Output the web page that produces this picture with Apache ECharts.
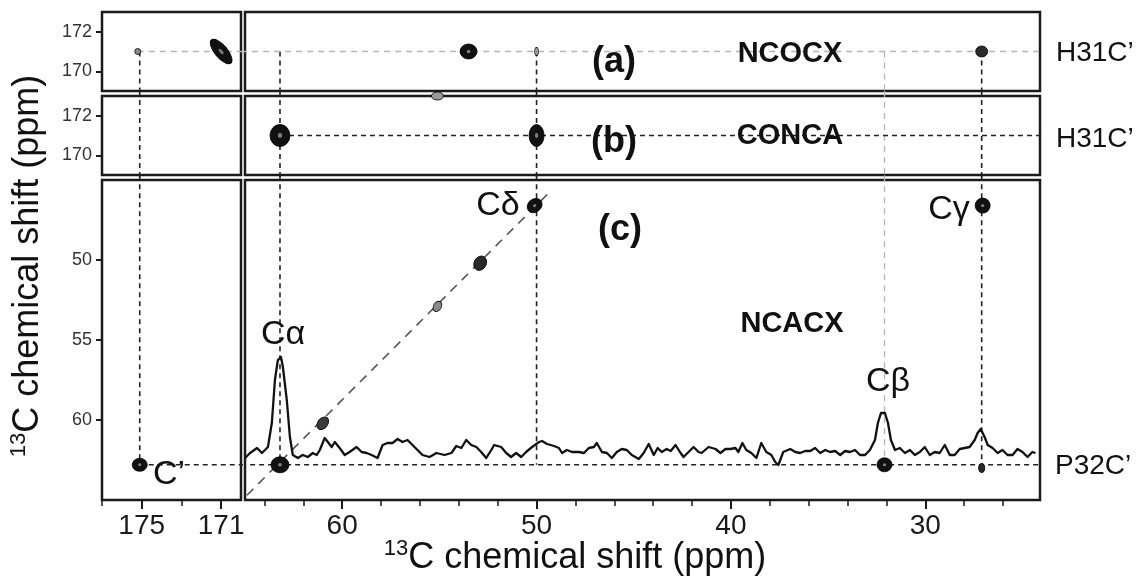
<!DOCTYPE html>
<html><head><meta charset="utf-8">
<script src="https://cdn.jsdelivr.net/npm/echarts@6/dist/echarts.min.js"></script>
<style>html,body{margin:0;padding:0;background:#fff}#c{width:1137px;height:577px}</style>
</head><body><div id="c"></div>
<script>
// ---------------- data ----------------
// x ticks
const xTicksLeftMajor = [175, 171];
const xTicksLeftMinor = [177, 173];
const xTicksRightMajor = [60, 50, 40, 30];
const xTicksRightMinor = [64, 62, 58, 56, 54, 52, 48, 46, 44, 42, 38, 36, 34, 32, 28, 26];
// y ticks
const yTicksTop = [170, 172];
const yTicksC = [50, 55, 60];

// assignments (ppm)
const H31_CO = 171.0;    // omega1 of panels (a) and (b)
const P32_CO = 175.1;
const P32_CA = 63.2;
const P32_CD = 50.0;
const P32_CB = 32.1;
const P32_CG = 27.1;
const P32_CA_W1 = 62.8;  // omega1 in panel (c)

// 2D peaks [omega2, omega1]
const peaksA_left  = [[171.0, 171.0], [175.2, 171.0]];
const peaksA_right = [[53.5, 171.0], [50.0, 171.0], [27.1, 171.0]];
const peaksB_right = [[63.2, 171.0], [50.0, 171.0], [55.1, 173.0]];
const peaksC_left  = [[175.1, 62.8]];
const peaksC_right = [[63.2, 62.8], [61.0, 60.2], [55.1, 52.9], [52.9, 50.2], [50.1, 46.6], [27.05, 46.6], [32.1, 62.8], [27.1, 63.0]];

// diagonal of panel (c)
const diagonal = [[64.9, 64.7], [49.2, 45.6]];

// 1D slice (shift ppm, intensity a.u.)
const traceShift = [65.00,64.74,64.38,64.13,63.97,63.82,63.62,63.46,63.31,63.15,63.05,62.85,62.69,62.54,62.28,62.03,61.77,61.51,61.31,61.15,60.90,60.74,60.54,60.38,60.13,59.87,59.62,59.26,59.00,58.74,58.49,58.18,57.92,57.67,57.41,57.15,56.90,56.64,56.28,55.87,55.51,55.15,54.74,54.38,54.13,53.87,53.62,53.36,53.10,52.85,52.59,52.33,52.18,51.82,51.56,51.31,51.05,50.79,50.54,50.23,49.87,49.72,49.46,49.10,48.85,48.69,48.44,48.18,47.82,47.56,47.31,47.05,46.90,46.64,46.38,46.13,45.87,45.62,45.36,45.10,44.74,44.49,44.23,43.97,43.77,43.56,43.31,43.10,42.85,42.59,42.44,42.18,41.92,41.67,41.51,41.15,40.79,40.54,40.28,40.03,39.77,39.62,39.41,39.21,38.95,38.69,38.44,38.18,37.92,37.72,37.56,37.31,36.95,36.69,36.44,36.18,35.92,35.67,35.41,35.15,34.90,34.64,34.38,34.13,33.87,33.62,33.36,33.10,32.85,32.59,32.44,32.28,32.08,31.92,31.77,31.56,31.31,31.05,30.79,30.54,30.28,30.03,29.77,29.51,29.26,29.00,28.74,28.49,28.23,27.97,27.72,27.46,27.31,27.15,26.95,26.79,26.54,26.28,26.03,25.77,25.51,25.26,25.00,24.74,24.49,24.33];
const traceIntensity = [-3,2,7,2,5,8,32,75,95,98,88,55,18,0,-3,0,-2,2,0,5,17,13,8,13,7,0,3,8,3,2,0,-3,10,12,12,16,13,15,8,0,-2,2,0,2,9,7,15,10,8,3,-3,5,10,8,2,-2,2,-2,3,8,13,14,11,9,7,2,5,3,3,2,7,8,12,3,2,-3,3,6,5,0,-4,2,11,0,7,3,6,4,10,2,-2,3,8,3,2,8,6,2,6,6,7,3,12,5,2,-3,12,3,0,-7,-10,3,6,3,2,4,4,7,2,5,3,4,0,4,3,5,0,0,5,15,32,42,42,32,15,5,7,2,5,0,3,8,0,3,2,10,0,0,6,7,8,15,22,26,18,10,7,2,5,0,0,6,3,-2,3,2];

// --------------- styles ---------------
const DARK = '#111111';
const FONT = '"Liberation Sans", Arial, sans-serif';
const shapeA_left  = [{s:[30,13], r:-50, c:DARK}, {s:[6,6], r:0, c:'#8a8a8a'}];
const shapeA_right = [{s:[17,15], r:0, c:DARK}, {s:[4,8], r:0, c:'#9a9a9a'}, {s:[12,11], r:0, c:'#2a2a2a'}];
const shapeB_right = [{s:[20,22], r:0, c:DARK}, {s:[15,22], r:0, c:DARK}, {s:[12,8], r:0, c:'#9a9a9a'}];
const shapeC_left  = [{s:[15,13], r:0, c:DARK}];
const shapeC_right = [{s:[18,16], r:0, c:DARK}, {s:[10,14], r:-40, c:'#3a3a3a'}, {s:[8,11], r:-30, c:'#8a8a8a'}, {s:[12,15], r:-30, c:'#2a2a2a'}, {s:[16,13], r:40, c:DARK}, {s:[15,15], r:0, c:DARK}, {s:[15,14], r:0, c:DARK}, {s:[6,9], r:0, c:'#2a2a2a'}];

const grids = [
  {left:102, top:12, width:139, height:79},
  {left:245, top:12, width:795, height:79},
  {left:102, top:96, width:139, height:79},
  {left:245, top:96, width:795, height:79},
  {left:102, top:180, width:139, height:320},
  {left:245, top:180, width:795, height:320}
].map(g => Object.assign({show:true, borderColor:'#1a1a1a', borderWidth:2.5, backgroundColor:'transparent'}, g));

function xAx(gi, min, max, opts) {
  return Object.assign({gridIndex:gi, type:'value', position:'bottom', min, max, inverse:true, splitLine:{show:false},
    axisLine:{show:false, onZero:false}, axisTick:{show:false}, axisLabel:{show:false}}, opts || {});
}
function yAx(gi, min, max, inverse, opts) {
  return Object.assign({gridIndex:gi, type:'value', position:'left', min, max, inverse, splitLine:{show:false},
    axisLine:{show:false, onZero:false}, axisTick:{show:false}, axisLabel:{show:false}}, opts || {});
}
const tickStyle = (vals, len, w) => ({show:true, customValues:vals, length:len, lineStyle:{color:'#1a1a1a', width:w}});
const xLbl = vals => ({show:true, customValues:vals, fontSize:28, color:'#1a1a1a', fontFamily:FONT, margin:12});
const yLbl = vals => ({show:true, customValues:vals, fontSize:18, color:'#333', fontFamily:FONT, margin:10});

const xAxes = [
  xAx(0, 170, 177), xAx(1, 24.1, 65), xAx(2, 170, 177), xAx(3, 24.1, 65),
  xAx(4, 170, 177, {axisTick:tickStyle(xTicksLeftMajor, 9, 2), axisLabel:xLbl(xTicksLeftMajor)}),
  xAx(4, 170, 177, {axisTick:tickStyle(xTicksLeftMinor, 6, 1.5)}),
  xAx(5, 24.1, 65, {axisTick:tickStyle(xTicksRightMajor, 9, 2), axisLabel:xLbl(xTicksRightMajor)}),
  xAx(5, 24.1, 65, {axisTick:tickStyle(xTicksRightMinor, 6, 1.5)})
];
const yAxes = [
  yAx(0, 169, 173, false, {axisTick:tickStyle(yTicksTop, 6, 2), axisLabel:yLbl(yTicksTop)}),
  yAx(1, 169, 173, false),
  yAx(2, 169, 173, false, {axisTick:tickStyle(yTicksTop, 6, 2), axisLabel:yLbl(yTicksTop)}),
  yAx(3, 169, 173, false),
  yAx(4, 45, 65, true, {axisTick:tickStyle(yTicksC, 6, 2), axisLabel:yLbl(yTicksC)}),
  yAx(5, 45, 65, true),
  yAx(5, -45, 275, false)
];

// grid -> [xAxisIndex, yAxisIndex]
const AX = [[0,0],[1,1],[2,2],[3,3],[4,4],[6,5]];
const series = [];
const DASH_DARK = {color:'#222', width:1.6, type:[5,4]};
const DASH_GRAY = {color:'#b5b5b5', width:1.3, type:[6,5]};
function guide(g, data, ls) {
  series.push({type:'line', xAxisIndex:AX[g][0], yAxisIndex:AX[g][1], data, symbol:'none', clip:false,
    silent:true, animation:false, z:2, lineStyle:ls});
}
// vertical guides through the three panels
function vGuide(gTop, gMid, gBot, x, ls) {
  guide(gTop, [[x, H31_CO], [x, 168.75]], ls);
  guide(gMid, [[x, 173.25], [x, 168.75]], ls);
  guide(gBot, [[x, 44.7], [x, P32_CA_W1]], ls);
}
vGuide(0, 2, 4, P32_CO, DASH_DARK);
vGuide(1, 3, 5, P32_CA, DASH_DARK);
vGuide(1, 3, 5, P32_CD, DASH_DARK);
vGuide(1, 3, 5, P32_CB, DASH_GRAY);
vGuide(1, 3, 5, P32_CG, DASH_DARK);
// horizontal guides
guide(0, [[175.2, H31_CO], [169.8, H31_CO]], DASH_GRAY);
guide(1, [[65.2, H31_CO], [23.4, H31_CO]], DASH_GRAY);
guide(3, [[P32_CA, H31_CO], [23.4, H31_CO]], DASH_DARK);
guide(4, [[P32_CO, P32_CA_W1], [169.8, P32_CA_W1]], DASH_DARK);
guide(5, [[65.2, P32_CA_W1], [23.4, P32_CA_W1]], DASH_DARK);
// diagonal
guide(5, diagonal, {color:'#555', width:1.6, type:[9,7]});

// 1D trace
series.push({type:'line', xAxisIndex:6, yAxisIndex:6, symbol:'none', silent:true, animation:false, z:4,
  data: traceShift.map((x, i) => [x, traceIntensity[i]]),
  lineStyle:{color:'#111', width:2.3, join:'round'}});

function peaks(g, pts, shapes) {
  series.push({type:'scatter', xAxisIndex:AX[g][0], yAxisIndex:AX[g][1], silent:true, animation:false, z:5,
    data: pts.map((p, i) => ({value:p, symbolSize:shapes[i].s, symbolRotate:shapes[i].r,
      itemStyle:{color:shapes[i].c, opacity:1, borderColor:'#000', borderWidth:0.8}}))});
  series.push({type:'scatter', xAxisIndex:AX[g][0], yAxisIndex:AX[g][1], silent:true, animation:false, z:6,
    data: pts.map((p, i) => ({value:p, symbolSize:shapes[i].s.map(v => Math.max(2, v*0.22)), symbolRotate:shapes[i].r,
      itemStyle:{color:'#8a8a8a', opacity: shapes[i].c === DARK ? 0.9 : 0}}))});
}
peaks(0, peaksA_left, shapeA_left);
peaks(1, peaksA_right, shapeA_right);
peaks(3, peaksB_right, shapeB_right);
peaks(4, peaksC_left, shapeC_left);
peaks(5, peaksC_right, shapeC_right);

function txt(text, x, y, size, weight, align) {
  return {type:'text', x, y, z:20, silent:true,
    style:{text, fontSize:size, fontWeight:weight || 'normal', fontFamily:FONT, fill:'#111', align:align || 'center', verticalAlign:'middle'}};
}
function richTitle() {
  return {
    text:'{sup|13}{m|C chemical shift (ppm)}',
    rich:{
      sup:{fontSize:22, fontFamily:FONT, fill:'#111', verticalAlign:'top', lineHeight:24},
      m:{fontSize:36, fontFamily:FONT, fill:'#111', lineHeight:40}
    },
    align:'center', verticalAlign:'middle'
  };
}

const graphic = [
  txt('(a)', 614, 62, 36, 'bold'),
  txt('NCOCX', 790, 54, 29, 'bold'),
  txt('(b)', 614, 142, 36, 'bold'),
  txt('CONCA', 790, 136, 29, 'bold'),
  txt('(c)', 620, 230, 36, 'bold'),
  txt('NCACX', 792, 324, 29, 'bold'),
  txt('C\u03b1', 283, 335, 34),
  txt('C\u03b4', 498, 206, 34),
  txt('C\u03b3', 949, 210, 34),
  txt('C\u03b2', 888, 382, 34),
  txt('C\u2019', 169, 475, 34),
  txt('H31C\u2019', 1056, 53, 28, 'normal', 'left'),
  txt('H31C\u2019', 1056, 139, 28, 'normal', 'left'),
  txt('P32C\u2019', 1055, 466, 28, 'normal', 'left'),
  {type:'text', x:575, y:558, z:20, silent:true, style:richTitle()},
  {type:'text', x:28, y:266, rotation:Math.PI/2, z:20, silent:true, style:richTitle()}
];

const chart = echarts.init(document.getElementById('c'), null, {renderer:'canvas'});
chart.setOption({animation:false, backgroundColor:'#fff', grid:grids, xAxis:xAxes, yAxis:yAxes, series, graphic});
</script></body></html>
